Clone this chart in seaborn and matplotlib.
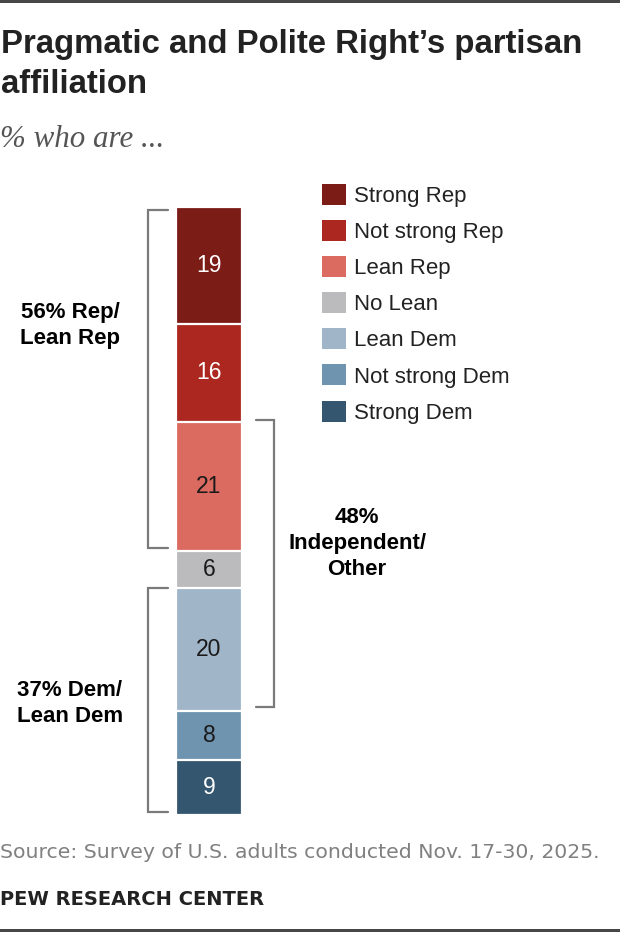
import matplotlib
matplotlib.use("Agg")
import numpy as np
import matplotlib.pyplot as plt
import seaborn as sns
from matplotlib.patches import Patch, Rectangle

# ========== DATA ==========
categories = ["Strong Rep", "Not strong Rep", "Lean Rep", "No Lean",
              "Lean Dem", "Not strong Dem", "Strong Dem"]
values = [19, 16, 21, 6, 20, 8, 9]
colors = ["#7b1c17", "#ac271f", "#db6a61", "#bbbbbd",
          "#a0b5c8", "#6f94b0", "#35566f"]
value_colors = ["white", "white", "#1a1a1a", "#1a1a1a",
                "#1a1a1a", "#1a1a1a", "white"]

group_labels = ["56% Rep/\nLean Rep", "48%\nIndependent/\nOther", "37% Dem/\nLean Dem"]
group_first = [0, 2, 4]   # first category in bracket
group_last = [2, 4, 6]    # last category in bracket
group_side = ["left", "right", "left"]

title_lines = ["Pragmatic and Polite Right\u2019s partisan", "affiliation"]
subtitle = "% who are ..."
source = "Source: Survey of U.S. adults conducted Nov. 17-30, 2025."
credit = "PEW RESEARCH CENTER"

# ========== STYLE ==========
sns.set_style("white")
plt.rcParams["font.family"] = ["Liberation Sans", "DejaVu Sans"]

W, H = 620, 932
fig = plt.figure(figsize=(W / 100, H / 100), dpi=100)
fig.patch.set_facecolor("white")

# axes placed so the bar runs from y=207px to y=815px, x centred at 209px
px_per_x = 82.5
ax = fig.add_axes([0, (H - 815) / H, 1, 608 / H])
total = sum(values)

# ========== STACKED BAR ==========
cum = np.cumsum(values)
for i in reversed(range(len(values))):
    sns.barplot(x=["all"], y=[cum[i]], color=colors[i], saturation=1,
                width=0.8, edgecolor="white", linewidth=1.6, ax=ax)

ax.set_xlim(-209 / px_per_x, (W - 209) / px_per_x)
ax.set_ylim(total, 0)
ax.axis("off")

for i, v in enumerate(values):
    ax.text(0, cum[i] - v / 2, str(v), ha="center", va="center",
            fontsize=16.5, color=value_colors[i])

# ========== BRACKETS ==========
bracket_color = "#7a7a7a"
label_pos = [(-1.685, 19.3), (1.794, 54.8), (-1.685, 80.9)]
top_inset = [0.5, -0.3, 0.1]
bottom_inset = [0.5, 0.6, 0.5]
for k, lab in enumerate(group_labels):
    y0 = cum[group_first[k]] - values[group_first[k]] + top_inset[k]
    y1 = cum[group_last[k]] - bottom_inset[k]
    if group_side[k] == "left":
        xv, xt = -0.739, -0.497
    else:
        xv, xt = 0.788, 0.570
    ax.plot([xt, xv, xv, xt], [y0, y0, y1, y1], color=bracket_color,
            lw=1.6, clip_on=False, solid_joinstyle="miter")
    lx, ly = label_pos[k]
    ax.text(lx, ly, lab, ha="center", va="center", fontsize=16,
            fontweight="bold", color="black", linespacing=1.33)

# ========== LEGEND ==========
handles = [Patch(facecolor=c, edgecolor="none", label=l) for c, l in zip(colors, categories)]
ax.legend(handles=handles, loc="upper left", bbox_to_anchor=(322 / W, 1 - 184 / H),
          bbox_transform=fig.transFigure, frameon=False, borderpad=0, borderaxespad=0,
          handlelength=1.08, handleheight=1.08, labelspacing=0.585, handletextpad=0.36,
          fontsize=16, labelcolor="#222222")

# ========== TEXTS ==========
fig.text(1 / W, 1 - 53 / H, title_lines[0], ha="left", va="baseline",
         fontsize=23.7, fontweight="bold", color="#222222")
fig.text(1 / W, 1 - 93 / H, title_lines[1], ha="left", va="baseline",
         fontsize=23.7, fontweight="bold", color="#222222")
fig.text(0, 1 - 147 / H, subtitle, ha="left", va="baseline", fontsize=22.3,
         style="italic", family="Liberation Serif", color="#555555")
fig.text(0, 1 - 858 / H, source, ha="left", va="baseline", fontsize=14.7,
         family="DejaVu Sans", color="#808080")
fig.text(0, 1 - 905 / H, credit, ha="left", va="baseline", fontsize=14,
         fontweight="bold", family="DejaVu Sans", color="#222222")

# top and bottom rules
fig.add_artist(Rectangle((0, 1 - 3 / H), 1, 3 / H, transform=fig.transFigure,
                         color="#474747", lw=0))
fig.add_artist(Rectangle((0, 0), 1, 3 / H, transform=fig.transFigure,
                         color="#474747", lw=0))

fig.savefig("out.png", dpi=100)
